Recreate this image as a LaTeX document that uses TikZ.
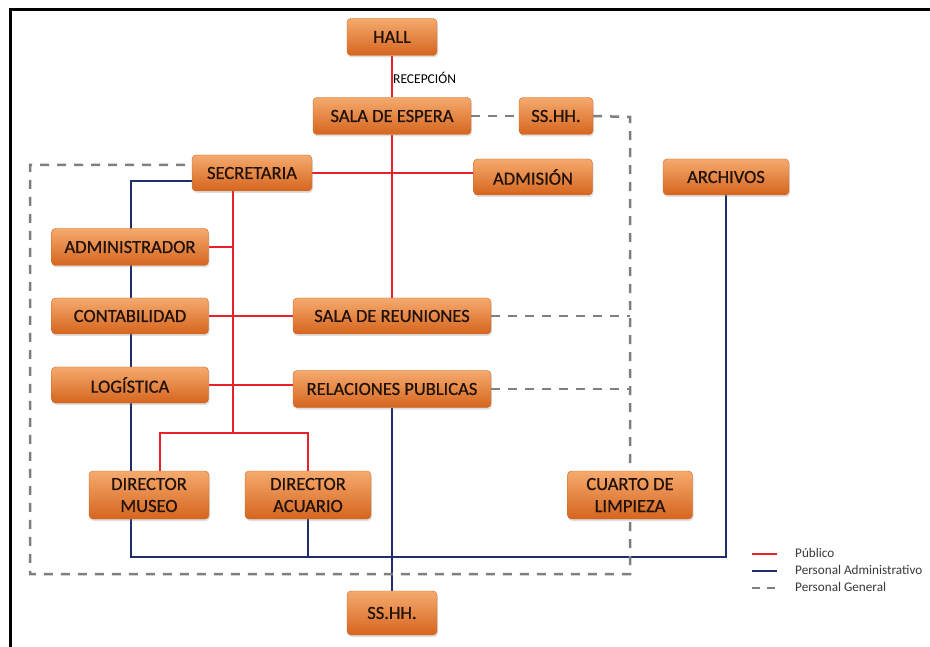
\documentclass[tikz,border=0pt]{standalone}
\usepackage{fontspec}
\setmainfont{Carlito}
\newfontface\roomface[FakeBold=0.7]{Carlito}
\usetikzlibrary{shadows,backgrounds}

\definecolor{pubred}{HTML}{E8202A}
\definecolor{adminblue}{HTML}{1F2D6B}
\definecolor{gengray}{HTML}{7F7F7F}
\definecolor{boxtop}{HTML}{F5AA6E}
\definecolor{boxbot}{HTML}{D5651E}
\definecolor{boxedge}{HTML}{C8682A}
\definecolor{boxtext}{HTML}{22120A}
\definecolor{legtext}{HTML}{3A3A3A}

\tikzset{
  room/.style={rounded corners=4pt, top color=boxtop, bottom color=boxbot,
    draw=boxedge, line width=0.4pt, text=boxtext,
    font=\roomface\fontsize{18.5}{22}\selectfont, align=center, inner sep=0pt,
    drop shadow={opacity=0.25, shadow xshift=1pt, shadow yshift=-2pt}},
  publico/.style={draw=pubred, line width=2.3pt},
  administrativo/.style={draw=adminblue, line width=2.5pt},
  general/.style={draw=gengray, line width=2.5pt, dash pattern=on 9pt off 8pt},
  legendtext/.style={anchor=west, inner sep=0pt, text=legtext,
    font=\fontsize{13.2}{15}\selectfont},
}

\begin{document}
\begin{tikzpicture}[x=1pt, y=-1pt]
\useasboundingbox (0,0) rectangle (930,647);

% outer frame (top and left edges)
\draw[line width=3pt] (10,647) -- (10,10) -- (930,10);

% rooms
\node[room, minimum width=90pt, minimum height=37pt] (hall) at (392,37) {HALL};
\node[room, minimum width=158pt, minimum height=37pt] (espera) at (392,116) {SALA DE ESPERA};
\node[room, minimum width=74pt, minimum height=37pt] (ssh) at (556,116) {SS.HH.};
\node[room, minimum width=120pt, minimum height=36pt] (sec) at (252,173) {SECRETARIA};
\node[room, minimum width=119pt, minimum height=36pt] (adm) at (533,177) {ADMISIÓN};
\node[room, minimum width=126pt, minimum height=36pt] (arch) at (726,177) {ARCHIVOS};
\node[room, minimum width=157pt, minimum height=37pt] (admin) at (130,247) {ADMINISTRADOR};
\node[room, minimum width=157pt, minimum height=36pt] (conta) at (130,316) {CONTABILIDAD};
\node[room, minimum width=157pt, minimum height=36pt] (logi) at (130,385) {LOGÍSTICA};
\node[room, minimum width=198pt, minimum height=36pt] (reun) at (392,316) {SALA DE REUNIONES};
\node[room, minimum width=198pt, minimum height=37pt] (rel) at (392,389) {RELACIONES PUBLICAS};
\node[room, minimum width=120pt, minimum height=48pt] (dmus) at (149,495) {DIRECTOR\\MUSEO};
\node[room, minimum width=126pt, minimum height=48pt] (dac) at (308,495) {DIRECTOR\\ACUARIO};
\node[room, minimum width=125pt, minimum height=48pt] (limp) at (630,495) {CUARTO DE\\LIMPIEZA};
\node[room, minimum width=90pt, minimum height=44pt] (sshb) at (392,613) {SS.HH.};

\node[anchor=west, inner sep=0pt, text=black, font=\fontsize{13.5}{15}\selectfont]
  (recep) at (393,78) {RECEPCIÓN};

% routing points
\coordinate (spine) at (233,433);
\coordinate (dirl) at (160,433);
\coordinate (dirr) at (308,433);
\coordinate (btop) at (131,181);
\coordinate (bbot) at (131,557);
\coordinate (gtr) at (630,117);
\coordinate (gbr) at (630,574);
\coordinate (gbl) at (30,574);
\coordinate (gtl) at (30,165);

\begin{scope}[on background layer]
  % public circulation
  \draw[publico] (hall.south) -- (espera.north);
  \draw[publico] (espera.south) -- (reun.north);
  \draw[publico] (sec.east) -- (sec.east -| adm.west);
  \draw[publico] (sec.south -| spine) -- (spine);
  \draw[publico] (admin.east) -- (admin.east -| spine);
  \draw[publico] (conta.east) -- (reun.west);
  \draw[publico] (logi.east) -- (logi.east -| rel.west);
  \draw[publico] (dirl |- dmus.north) -- (dirl) -- (dirr) -- (dirr |- dac.north);

  % administrative staff circulation
  \draw[administrativo] (btop -| sec.west) -- (btop) -- (btop |- dmus.north);
  \draw[administrativo] (bbot |- dmus.south) -- (bbot) -- (bbot -| arch.south) -- (arch.south);
  \draw[administrativo] (dac.south) -- (dac.south |- bbot);
  \draw[administrativo] (rel.south) -- (sshb.north);

  % general staff circulation
  \draw[general] (espera.east) -- (ssh.west);
  \draw[general] (ssh.east) -- (gtr) -- (gbr) -- (gbl) -- (gtl) -- (gtl -| sec.west);
  \draw[general] (reun.east) -- (reun.east -| gtr);
  \draw[general] (rel.east) -- (rel.east -| gtr);
\end{scope}

% legend
\coordinate (l1a) at (752,554); \coordinate (l1b) at (777,554);
\coordinate (l2a) at (752,571); \coordinate (l2b) at (777,571);
\coordinate (l3a) at (752,588); \coordinate (l3b) at (777,588);
\draw[publico] (l1a) -- (l1b);
\draw[administrativo] (l2a) -- (l2b);
\draw[general, dash pattern=on 8pt off 7pt] (l3a) -- (l3b);
\node[legendtext] (leg1) at (795,553) {Público};
\node[legendtext] (leg2) at (795,570) {Personal Administrativo};
\node[legendtext] (leg3) at (795,587) {Personal General};
\end{tikzpicture}
\end{document}
